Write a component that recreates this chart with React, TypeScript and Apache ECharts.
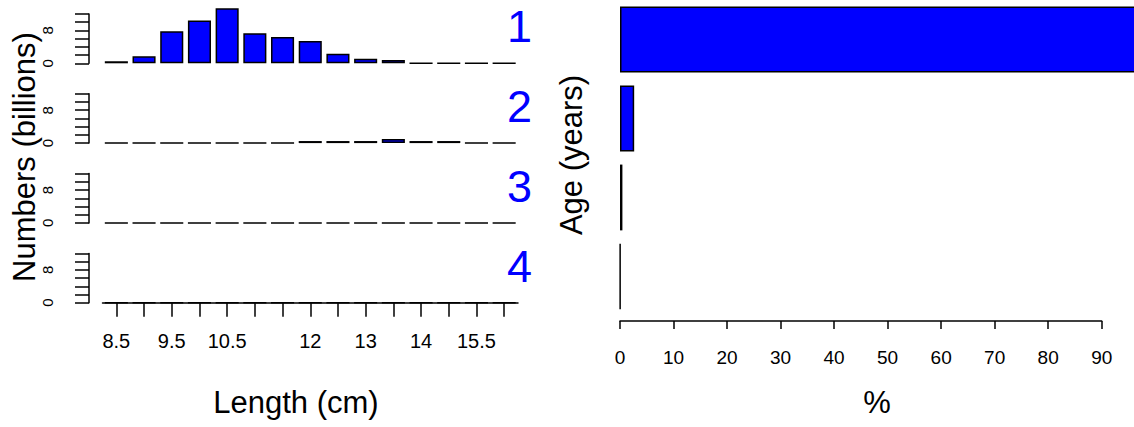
import React, { useEffect, useRef } from "react";
import * as echarts from "echarts";

// ---- data ----
const lengthCategories = ["8.5", "9", "9.5", "10", "10.5", "11", "11.5", "12", "12.5", "13", "13.5", "14", "14.5", "15.5", "16"];
const shownLengthLabels = ["8.5", "9.5", "10.5", "12", "13", "14", "15.5"];
const panelLabels = ["1", "2", "3", "4"];
const numbersAge1 = [0.5, 1.7, 7.8, 10.4, 13.4, 7.3, 6.4, 5.4, 2.3, 1.1, 0.8, 0, 0, 0, 0];
const numbersAge2 = [0, 0, 0, 0, 0, 0, 0, 0.5, 0.5, 0.5, 1.0, 0.5, 0.5, 0, 0];
const numbersAge3 = [0, 0, 0, 0, 0, 0, 0, 0, 0, 0, 0, 0, 0, 0, 0];
const numbersAge4 = [0, 0, 0, 0, 0, 0, 0, 0, 0, 0, 0, 0, 0, 0, 0];
const numbersByAge = [numbersAge1, numbersAge2, numbersAge3, numbersAge4];
const shownNumberTicks = [0, 8];
const ageCategories = ["1", "2", "3", "4"];
const agePercent = [96.85, 2.65, 0.45, 0.05];

const FONT = "'Liberation Sans', Arial, Helvetica, sans-serif";
const BLUE = "#0000FF";

export default function App() {
  const ref = useRef<HTMLDivElement>(null);

  useEffect(() => {
    if (!ref.current) return;
    const chart = echarts.init(ref.current, undefined, { renderer: "svg" });

    const baselines = [63.3, 143.1, 222.9, 302.7];
    const panelH = 49.3;
    const gridLeft = 102.5;
    const gridWidth = 415.5;

    const grids: any[] = baselines.map((b) => ({
      left: gridLeft,
      width: gridWidth,
      top: b - panelH,
      height: panelH,
    }));
    grids.push({ left: 620, width: 481.7, top: -2.85, height: 318.8 });

    const xAxes: any[] = baselines.map((_, i) => ({
      type: "category",
      gridIndex: i,
      data: lengthCategories,
      axisLine: { show: i === 3, lineStyle: { color: "#000", width: 1.5 } },
      axisTick: {
        show: i === 3,
        alignWithLabel: true,
        interval: 0,
        length: 14,
        lineStyle: { color: "#000", width: 1.5 },
      },
      axisLabel: {
        show: i === 3,
        interval: 0,
        margin: 28,
        fontSize: 20,
        fontFamily: FONT,
        color: "#000",
        formatter: (v: string) => (shownLengthLabels.includes(v) ? v : ""),
      },
      splitLine: { show: false },
    }));
    xAxes.push({
      type: "value",
      gridIndex: 4,
      min: 0,
      max: 90,
      interval: 10,
      offset: 5,
      axisLine: { show: true, lineStyle: { color: "#000", width: 1.5 } },
      axisTick: { show: true, length: 8, lineStyle: { color: "#000", width: 1.5 } },
      axisLabel: { margin: 27, fontSize: 19, fontFamily: FONT, color: "#000" },
      splitLine: { show: false },
    });

    const yAxes: any[] = baselines.map((_, i) => ({
      type: "value",
      gridIndex: i,
      min: 0,
      max: 12,
      interval: 2,
      offset: 13.5,
      axisLine: { show: true, lineStyle: { color: "#000", width: 1.5 } },
      axisTick: { show: true, length: 14, lineStyle: { color: "#000", width: 1.5 } },
      axisLabel: {
        rotate: 90,
        margin: 34,
        fontSize: 15,
        fontFamily: FONT,
        color: "#000",
        formatter: (v: number) => (shownNumberTicks.includes(v) ? String(v) : ""),
      },
      splitLine: { show: false },
    }));
    yAxes.push({
      type: "category",
      gridIndex: 4,
      data: ageCategories,
      inverse: true,
      show: false,
    });

    const barStyle = { color: BLUE, borderColor: "#000", borderWidth: 1.5 };

    const series: any[] = numbersByAge.map((d, i) => ({
      type: "bar",
      xAxisIndex: i,
      yAxisIndex: i,
      data: d,
      barWidth: "83.3%",
      itemStyle: barStyle,
      clip: false,
      silent: true,
    }));
    series.push({
      type: "bar",
      xAxisIndex: 4,
      yAxisIndex: 4,
      data: agePercent,
      barWidth: "83.3%",
      itemStyle: barStyle,
      clip: false,
      silent: true,
    });

    const titleFont = { fontSize: 31, fontFamily: FONT, fill: "#000" };
    const graphics: any[] = [
      {
        type: "text",
        x: 24,
        y: 157,
        rotation: Math.PI / 2,
        style: { text: "Numbers (billions)", ...titleFont, textAlign: "center", textVerticalAlign: "middle" },
      },
      {
        type: "text",
        x: 296,
        y: 402,
        style: { text: "Length (cm)", ...titleFont, textAlign: "center", textVerticalAlign: "middle" },
      },
      {
        type: "text",
        x: 571,
        y: 155,
        rotation: Math.PI / 2,
        style: { text: "Age (years)", ...titleFont, textAlign: "center", textVerticalAlign: "middle" },
      },
      {
        type: "text",
        x: 877,
        y: 402,
        style: { text: "%", ...titleFont, textAlign: "center", textVerticalAlign: "middle" },
      },
      ...panelLabels.map((t, i) => ({
        type: "text",
        x: 532,
        y: baselines[i] - 36.5,
        style: {
          text: t,
          fontSize: 45,
          fontFamily: FONT,
          fill: BLUE,
          textAlign: "right",
          textVerticalAlign: "middle",
        },
      })),
    ];

    chart.setOption({
      animation: false,
      grid: grids,
      xAxis: xAxes,
      yAxis: yAxes,
      series,
      graphic: graphics,
    });

    return () => chart.dispose();
  }, []);

  return (
    <div
      ref={ref}
      style={{ position: "fixed", left: 0, top: 0, width: 1134, height: 427, background: "#fff" }}
    />
  );
}
